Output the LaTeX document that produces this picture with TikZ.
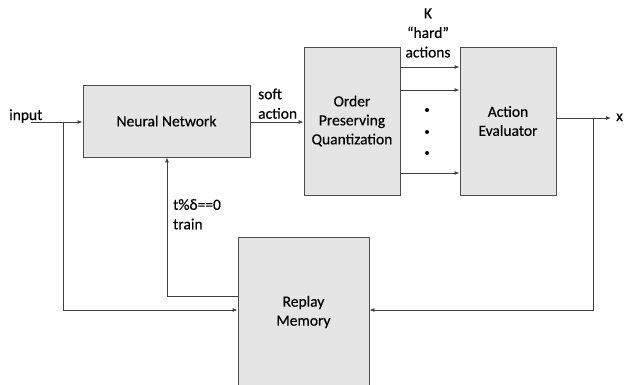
\documentclass[tikz,border=0pt]{standalone}
\usepackage{fontspec}
\setmainfont[FakeBold=0.4,BoldFont={Carlito}]{Carlito}
\usetikzlibrary{arrows.meta}
\begin{document}
\begin{tikzpicture}[x=1pt,y=-1pt,
  block/.style={draw=black!70, fill=black!10, line width=0.9pt, inner sep=0pt, align=center, font=\fontsize{15.5}{19}\selectfont},
  wire/.style={draw=black!75, line width=0.9pt},
  arr/.style={wire, -{Latex[length=5pt,width=4pt]}},
  lbl/.style={font=\fontsize{15.5}{19.5}\selectfont, inner sep=0pt, align=left},
  dot/.style={circle, fill=black, inner sep=0pt, minimum size=4pt}]
\clip (0,0) rectangle (624,384);
\fill[white] (0,0) rectangle (624,384);

% blocks
\node[block, minimum width=167pt, minimum height=72pt] (nn) at (166.5,121) {Neural Network};
\node[block, minimum width=96pt, minimum height=148pt] (opq) at (352,121) {Order\\Preserving\\Quantization};
\node[block, minimum width=96pt, minimum height=148pt] (ae) at (508,121) {Action\\Evaluator};
\node[block, minimum width=131pt, minimum height=150pt] (rm) at (303.5,312) {Replay\\Memory};

% labels and helper points
\node[lbl, anchor=base west] (in) at (9,120) {input};
\coordinate (inend) at (31,122);
\coordinate (split) at (63,122);
\coordinate (xsplit) at (593,118);
\coordinate (xend) at (611,118);
\node[lbl, anchor=base west] (xl) at (616,121) {x};
\node[lbl, anchor=south west] (soft) at (258,119) {soft\\action};
\node[lbl, align=center] (kh) at (428,33) {K\\``hard''\\actions};
\node[lbl, anchor=north west] (cond) at (173,199) {t\%δ==0\\train};

% input path
\draw[arr] (inend) -- (nn.west |- inend);
\draw[arr] (split) |- (rm.west |- 0,310);

% soft action
\draw[arr] (nn.east |- 0,122) -- (opq.west |- 0,122);

% hard actions
\foreach \yy in {67,90,173}
  \draw[arr] (opq.east |- 0,\yy) -- (ae.west |- 0,\yy);
\foreach \yy/\nm in {110/d1,132/d2,153/d3}
  \node[dot] (\nm) at (427,\yy) {};

% output
\draw[arr] (ae.east |- xsplit) -- (xend);
\draw[arr] (xsplit) |- (rm.east |- 0,310);

% training path
\draw[arr] (rm.west |- 0,296) -| (nn.south -| 167,0);
\end{tikzpicture}
\end{document}
